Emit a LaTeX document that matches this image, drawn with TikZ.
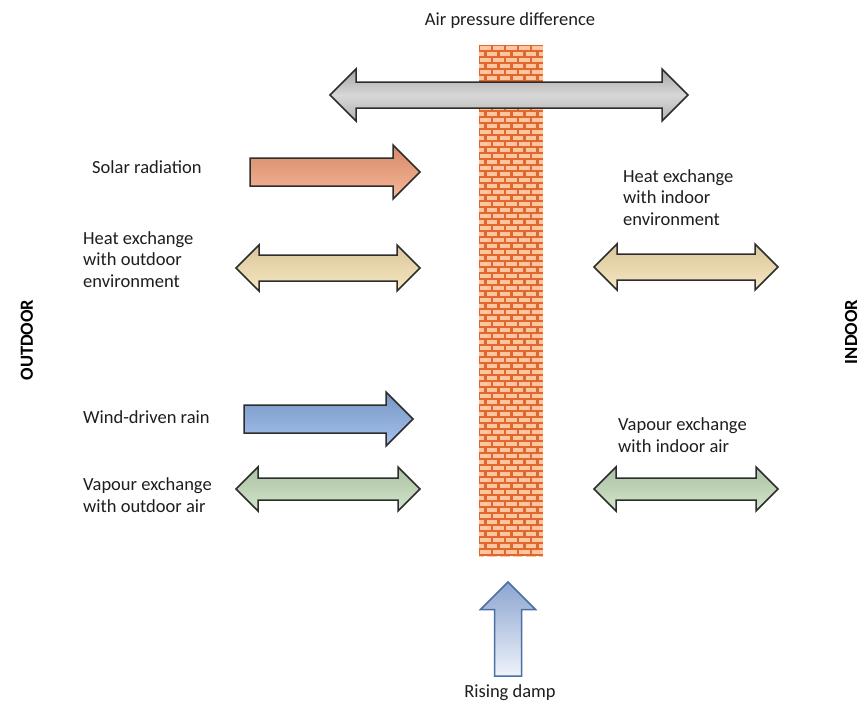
\documentclass[tikz,border=0pt]{standalone}
\usepackage{fontspec}
\setmainfont{Carlito}
\usepackage{tikz}
\usetikzlibrary{calc}
\definecolor{MortarOrange}{RGB}{224,104,44}
\definecolor{BrickPeach}{RGB}{253,198,160}
\definecolor{ArrowEdge}{RGB}{45,45,45}
\definecolor{TextDark}{RGB}{30,30,30}
\definecolor{GreyTop}{RGB}{165,165,165}
\definecolor{GreyMid}{RGB}{215,215,215}
\definecolor{GreyBottom}{RGB}{178,178,178}
\definecolor{SolarTop}{RGB}{212,137,106}
\definecolor{SolarBottom}{RGB}{247,184,151}
\definecolor{HeatTop}{RGB}{217,197,154}
\definecolor{HeatBottom}{RGB}{246,232,194}
\definecolor{RainTop}{RGB}{120,150,196}
\definecolor{RainBottom}{RGB}{164,194,236}
\definecolor{VapourTop}{RGB}{169,193,162}
\definecolor{VapourBottom}{RGB}{212,230,201}
\definecolor{DampEdge}{RGB}{74,111,165}
\definecolor{DampTop}{RGB}{141,165,208}
\definecolor{DampBottom}{RGB}{238,242,250}
\tikzset{
  % Wall
  mortar/.style={fill=MortarOrange},
  brick/.style={fill=BrickPeach},
  % Block arrows
  blockarrow/.style={
    draw=ArrowEdge,
    line width=1.5pt,
    line join=miter
  },
  pressarrow/.style={blockarrow, top color=GreyTop, bottom color=GreyBottom, middle color=GreyMid},
  solararrow/.style={blockarrow, top color=SolarTop, bottom color=SolarBottom},
  heatarrow/.style={blockarrow, top color=HeatTop, bottom color=HeatBottom},
  rainarrow/.style={blockarrow, top color=RainTop, bottom color=RainBottom},
  vapourarrow/.style={blockarrow, top color=VapourTop, bottom color=VapourBottom},
  damparrow/.style={draw=DampEdge, line width=1.5pt, line join=miter, top color=DampTop, bottom color=DampBottom},
  % Texts
  txt/.style={
    font=\fontsize{18.5}{21.5}\selectfont,
    text=TextDark,
    inner sep=0pt
  },
  sidetag/.style={
    font=\fontsize{18.5}{21.5}\selectfont\bfseries,
    text=black,
    inner sep=0pt,
    rotate=90
  }
}
% style, left x, tip x, centre y, half shaft, half head
\newcommand{\rightblock}[6]{%
  \path[#1] (#2,{#4-#5}) -- ({#3-#6},{#4-#5}) -- ({#3-#6},{#4-#6}) -- (#3,#4)
    -- ({#3-#6},{#4+#6}) -- ({#3-#6},{#4+#5}) -- (#2,{#4+#5}) -- cycle;}
% style, left tip x, right tip x, centre y, half shaft, half head
\newcommand{\bothblock}[6]{%
  \path[#1] (#2,#4) -- ({#2+#6},{#4-#6}) -- ({#2+#6},{#4-#5}) -- ({#3-#6},{#4-#5})
    -- ({#3-#6},{#4-#6}) -- (#3,#4) -- ({#3-#6},{#4+#6}) -- ({#3-#6},{#4+#5})
    -- ({#2+#6},{#4+#5}) -- ({#2+#6},{#4+#6}) -- cycle;}
% style, centre x, tip y, bottom y, half shaft, half head
\newcommand{\upblock}[6]{%
  \path[#1] (#2,#3) -- ({#2+#6},{#3+#6}) -- ({#2+#5},{#3+#6}) -- ({#2+#5},#4)
    -- ({#2-#5},#4) -- ({#2-#5},{#3+#6}) -- ({#2-#6},{#3+#6}) -- cycle;}
\begin{document}
\begin{tikzpicture}[x=1pt,y=-1pt]
  \useasboundingbox[fill=white] (0,0) rectangle (862,704);

  % Brick wall
  \fill[mortar] (479,45) rectangle (543,556);
  \begin{scope}
    \clip (479,45) rectangle (543,556);
    \foreach \r in {0,...,85}{
      \pgfmathsetmacro{\off}{mod(\r,2)*6.5}
      \foreach \c in {-1,...,5}
        \fill[brick] ({479+\c*13+\off+1.3},{45+\r*6+1.4}) rectangle ++(10.4,3.6);
    }
  \end{scope}

  % Arrows
  \bothblock{pressarrow}{330}{688}{95}{13}{26}
  \rightblock{solararrow}{250}{420}{172}{14}{27}
  \bothblock{heatarrow}{236}{420}{268}{13}{23}
  \bothblock{heatarrow}{594}{778}{267}{13}{23}
  \rightblock{rainarrow}{244}{413}{419}{14}{27}
  \bothblock{vapourarrow}{236}{420}{489}{11}{22}
  \bothblock{vapourarrow}{594}{778}{489}{11}{22}
  \upblock{damparrow}{508}{582}{676}{13.5}{27.5}

  % Labels (multi-line ones sit on their last baseline)
  \node[txt, anchor=base] (apd) at (510,25) {Air pressure difference};
  \node[txt, anchor=base west] (solar) at (92,173) {Solar radiation};
  \node[txt, anchor=base west, align=left] (heatout) at (83,287) {Heat exchange\\with outdoor\\environment};
  \node[txt, anchor=base west, align=left] (heatin) at (623,225) {Heat exchange\\with indoor\\environment};
  \node[txt, anchor=base west] (rain) at (83,423) {Wind-driven rain};
  \node[txt, anchor=base west, align=left] (vapout) at (83,512) {Vapour exchange\\with outdoor air};
  \node[txt, anchor=base west, align=left] (vapin) at (618,452) {Vapour exchange\\with indoor air};
  \node[txt, anchor=base] (damp) at (510,697) {Rising damp};

  % Sides
  \node[sidetag] (outdoor) at (27,340) {OUTDOOR};
  \node[sidetag] (indoor) at (851,332) {INDOOR};
\end{tikzpicture}
\end{document}
